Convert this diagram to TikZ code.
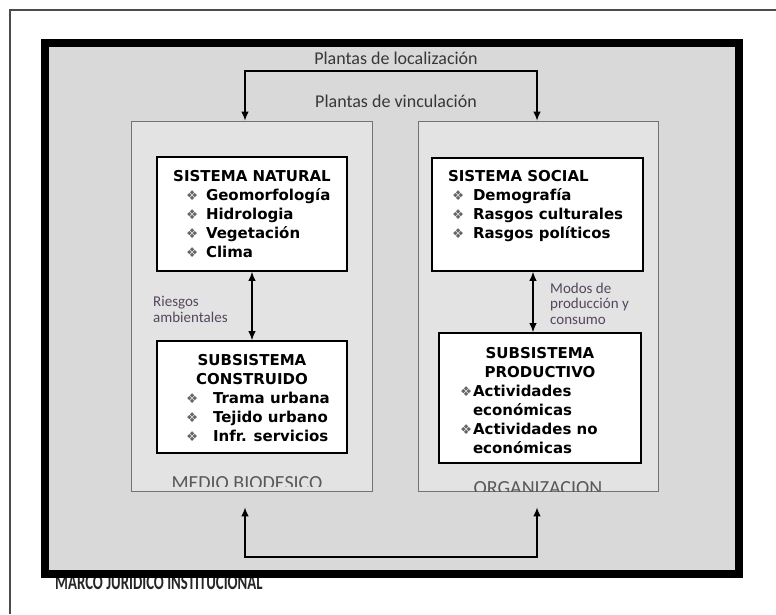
\documentclass[tikz,border=0pt]{standalone}
\usepackage{fontspec}
\setmainfont{DejaVu Sans}
\newfontfamily\lblfont{Carlito}
\usepackage{tikz}
\usetikzlibrary{arrows.meta,calc,positioning}
\definecolor{lblgray}{RGB}{55,55,55}
\definecolor{notegray}{RGB}{85,70,95}
\tikzset{
  zone/.style={
    draw=black!55,
    line width=0.9pt,
    fill=black!11,
    inner sep=0pt
  },
  sysbox/.style={
    draw=black,
    line width=1.8pt,
    fill=white,
    inner sep=0pt,
    font=\fontsize{15}{19}\selectfont\bfseries
  },
  link/.style={
    line width=1.1pt,
    <->,
    >={Latex[length=9pt,width=7.5pt]}
  },
  plabel/.style={
    font=\lblfont\fontsize{18}{20}\selectfont,
    text=lblgray,
    inner sep=0pt
  },
  note/.style={
    font=\lblfont\fontsize{15}{15.5}\selectfont,
    text=notegray,
    align=left,
    inner sep=0pt
  },
  zlabel/.style={
    font=\lblfont\fontsize{20}{22}\selectfont,
    text=black!65,
    inner sep=0pt
  }
}
\newcommand{\bul}{{\fontsize{13.5}{13.5}\mdseries\selectfont\color{black!60}❖}}
\newcommand{\itm}[3]{\hspace*{#1}\makebox[#2][l]{\bul}#3\par}

\begin{document}
\begin{tikzpicture}[x=1pt,y=-1pt]
  \useasboundingbox (0,0) rectangle (776,614);
  % page border (cut off at the right and bottom)
  \draw[black!70, line width=1.3pt] (10,614) -- (10,10) -- (776,10);

  % caption partly hidden under the frame
  \node[font=\lblfont\bfseries\fontsize{18}{18}\selectfont, text=black!85,
        anchor=base west, inner sep=0pt] (marcoLbl) at (55,589)
        {\scalebox{0.82}[1.2]{MARCO JURIDICO INSTITUCIONAL}};
  \node[draw=black, line width=8pt, fill=black!15, inner sep=0pt,
        minimum width=694.5pt, minimum height=531pt] (marco) at (391.75,308.5) {};

  % the two zones
  \node[zone, minimum width=241pt, minimum height=370pt] (medio) at (251.5,306) {};
  \node[zone, minimum width=240pt, minimum height=370pt] (org) at (538,306) {};
  \begin{scope}
    \clip (131,121) rectangle (372,486);
    \node[zlabel, anchor=base] (medioLbl) at (247,489) {MEDIO BIODESICO};
  \end{scope}
  \begin{scope}
    \clip (418,121) rectangle (658,491);
    \node[zlabel, anchor=base] (orgLbl) at (538,494) {ORGANIZACION};
  \end{scope}

  % systems
  \node[sysbox] (nat) at (252,214) {\parbox[c][114pt][t]{190pt}{\baselineskip=19pt
    {\centering\rule{0pt}{24pt}SISTEMA NATURAL\par}
    \itm{29pt}{20pt}{Geomorfología}
    \itm{29pt}{20pt}{Hidrologia}
    \itm{29pt}{20pt}{Vegetación}
    \itm{29pt}{20pt}{Clima}}};
  \node[sysbox] (soc) at (537.5,214.5) {\parbox[c][113pt][t]{211pt}{\baselineskip=19pt
    \hspace*{16pt}\rule{0pt}{23pt}SISTEMA SOCIAL\par
    \itm{20pt}{21pt}{Demografía}
    \itm{20pt}{21pt}{Rasgos culturales}
    \itm{20pt}{21pt}{Rasgos políticos}}};
  \node[sysbox] (cons) at (252,397) {\parbox[c][112pt][t]{190pt}{\baselineskip=19pt
    {\centering\rule{0pt}{24pt}SUBSISTEMA\\CONSTRUIDO\par}
    \itm{29pt}{27pt}{Trama urbana}
    \itm{29pt}{27pt}{Tejido urbano}
    \itm{29pt}{27pt}{Infr. servicios}}};
  \node[sysbox] (prod) at (540,398) {\parbox[c][130pt][t]{202pt}{\baselineskip=19pt
    {\centering\rule{0pt}{25pt}SUBSISTEMA\\PRODUCTIVO\par}
    \itm{21pt}{13pt}{Actividades}
    \hspace*{34pt}económicas\par
    \itm{21pt}{13pt}{Actividades no}
    \hspace*{34pt}económicas\par}};

  % links between the systems
  \draw[link] (252,0 |- nat.south) -- (252,0 |- cons.north);
  \node[note, anchor=base west] (riesgos) at (153,322) {Riesgos\\ambientales};
  \draw[link] (533,0 |- soc.south) -- (533,0 |- prod.north);
  \node[note, anchor=base west] (modos) at (550,324) {Modos de\\producción y\\consumo};

  % links between the zones
  \coordinate (topbar) at (391,71);
  \coordinate (botbar) at (391,557);
  \draw[link] ([xshift=-6.5pt]medio.north) |- (topbar) -| ([xshift=-1pt]org.north);
  \draw[link] ([xshift=-6.5pt,yshift=-16pt]medio.south) |- (botbar) -| ([xshift=-1pt,yshift=-16pt]org.south);
  \node[plabel, anchor=base] (loc) at (396,64) {Plantas de localización};
  \node[plabel, anchor=base] (vinc) at (396,107) {Plantas de vinculación};
\end{tikzpicture}
\end{document}
